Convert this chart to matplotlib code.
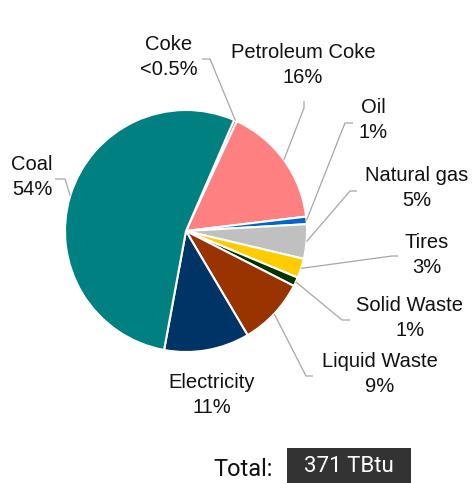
import numpy as np
import matplotlib

matplotlib.use("Agg")
import matplotlib.pyplot as plt
from matplotlib.patches import Rectangle

# share of fuel use (%), clockwise from the top-right
fuels = ["Coke", "Petroleum Coke", "Oil", "Natural gas", "Tires",
         "Solid Waste", "Liquid Waste", "Electricity", "Coal"]
shares = [0.4, 16.2, 1.0, 4.6, 2.6, 1.2, 9.0, 11.4, 53.6]
colors = ["#E8403A", "#FF8080", "#0066CC", "#C0C0C0", "#FFCC00",
          "#003300", "#993300", "#003366", "#008080"]
total_text = "371 TBtu"

W, H = 472, 483
cx, cy, rad = 186, H - 231, 121

# label centres and leader elbows, in pixel coords (y from top)
label_pos = {
    "Coke": (169, 57), "Petroleum Coke": (303, 65), "Oil": (373, 120),
    "Natural gas": (417, 188), "Tires": (427, 255), "Solid Waste": (410, 318),
    "Liquid Waste": (380, 374), "Electricity": (212, 395), "Coal": (32, 177),
}
leaders = {
    "Coke": [(210, 59), (202, 59)], "Petroleum Coke": [(304, 108), (304, 101)],
    "Oil": [(345, 123), (353, 123)], "Natural gas": [(350, 191), (357, 191)],
    "Tires": [(392, 256), (398, 256)], "Solid Waste": [(342, 320), (350, 320)],
    "Liquid Waste": [(306, 376), (313, 376)], "Coal": [(65, 179), (55, 179)],
}


def pct(v):
    return "<0.5%" if v < 0.5 else f"{round(v)}%"


fig = plt.figure(figsize=(W / 100, H / 100), dpi=100)
ax = fig.add_axes([0, 0, 1, 1])

wedges, _ = ax.pie(shares, colors=colors, startangle=90 - 23.4, counterclock=False,
                   center=(cx, cy), radius=rad,
                   wedgeprops=dict(edgecolor="white", linewidth=1.5))
ax.set_xlim(0, W)
ax.set_ylim(0, H)
ax.set_aspect("equal")
ax.axis("off")

for w, name, v in zip(wedges, fuels, shares):
    lx, ly = label_pos[name]
    ax.text(lx, H - ly, f"{name}\n{pct(v)}", ha="center", va="center",
            family="Liberation Sans", fontsize=14.5, linespacing=1.4, color="#111111")
    if name in leaders:
        mid = np.deg2rad((w.theta1 + w.theta2) / 2)
        pts = [(cx + rad * np.cos(mid), cy + rad * np.sin(mid))]
        pts += [(x, H - y) for x, y in leaders[name]]
        xs, ys = zip(*pts)
        ax.plot(xs, ys, color="#A6A6A6", linewidth=0.9, solid_capstyle="butt")

ax.text(243, H - 469, "Total:", ha="center", va="center",
        family="Roboto", fontsize=17, color="#111111")
ax.add_patch(Rectangle((287, 0), 124, H - 448, facecolor="#333333", edgecolor="none"))
ax.text(349, H - 466, total_text, ha="center", va="center",
        family="Roboto", fontsize=16, color="white")

fig.savefig("out.png", dpi=100)
